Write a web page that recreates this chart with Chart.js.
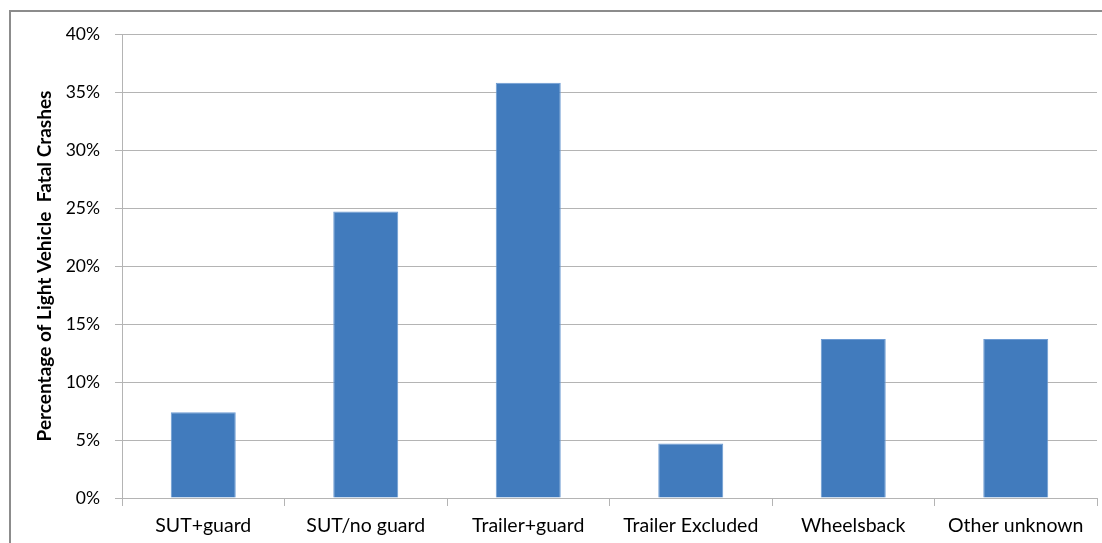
<!DOCTYPE html>
<html>
<head>
<meta charset="utf-8">
<script src="https://cdn.jsdelivr.net/npm/chart.js@4/dist/chart.umd.min.js"></script>
<style>
  html, body { margin: 0; padding: 0; background: #fff; }
  #frame {
    position: absolute; left: 9px; top: 10px;
    width: 1093px; height: 533px;
    border-top: 2px solid #8c8c8c; border-left: 2px solid #8c8c8c;
  }
  #wrap { position: relative; width: 1091px; height: 531px; }
</style>
</head>
<body>
<div id="frame"><div id="wrap"><canvas id="crashChart"></canvas></div></div>
<script>
"use strict";

// categories and values (percent)
var categorias = ["SUT+guard", "SUT/no guard", "Trailer+guard", "Trailer Excluded", "Wheelsback", "Other unknown"];
var porcentajes = [7.4, 24.7, 35.8, 4.7, 13.7, 13.7];
var yTicks = [0, 5, 10, 15, 20, 25, 30, 35, 40];

var fuente = "Lato, 'Open Sans', sans-serif";
var gridColor = "#b4b4b4";

var ctx = document.getElementById("crashChart").getContext("2d");
new Chart(ctx, {
  type: "bar",
  data: {
    labels: categorias,
    datasets: [{
      label: "Percentage",
      data: porcentajes,
      backgroundColor: "#417bbd",
      borderColor: "#6d9bd3",
      borderWidth: 1,
      barPercentage: 0.4,
      categoryPercentage: 1.0
    }]
  },
  options: {
    responsive: true,
    maintainAspectRatio: false,
    animation: false,
    layout: { padding: { top: 22, right: 5, left: 0, bottom: 0 } },
    plugins: {
      legend: { display: false },
      tooltip: { enabled: false }
    },
    scales: {
      x: {
        grid: {
          display: true,
          drawOnChartArea: false,
          drawTicks: true,
          tickLength: 8,
          color: gridColor
        },
        border: { color: gridColor },
        ticks: {
          color: "#000",
          padding: 8,
          maxRotation: 0,
          font: { family: fuente, size: 19.5 }
        },
        afterFit: function (scale) {
          scale.height = 45;
          scale.paddingLeft = 0;
          scale.paddingRight = 0;
        }
      },
      y: {
        min: 0,
        max: 40,
        afterBuildTicks: function (scale) {
          scale.ticks = yTicks.map(function (v) { return { value: v }; });
        },
        grid: {
          color: gridColor,
          tickLength: 7,
          drawTicks: true
        },
        border: { color: gridColor },
        ticks: {
          color: "#000",
          padding: 15,
          font: { family: fuente, size: 17.5 },
          callback: function (v) { return v + "%"; }
        },
        title: {
          display: true,
          text: "Percentage of Light Vehicle  Fatal Crashes",
          color: "#000",
          padding: { top: 22, bottom: 0 },
          font: { family: fuente, size: 19, weight: "bold" }
        },
        afterFit: function (scale) {
          scale.width = 111;
          scale.paddingTop = 0;
          scale.paddingBottom = 0;
        }
      }
    }
  }
});
</script>
</body>
</html>
